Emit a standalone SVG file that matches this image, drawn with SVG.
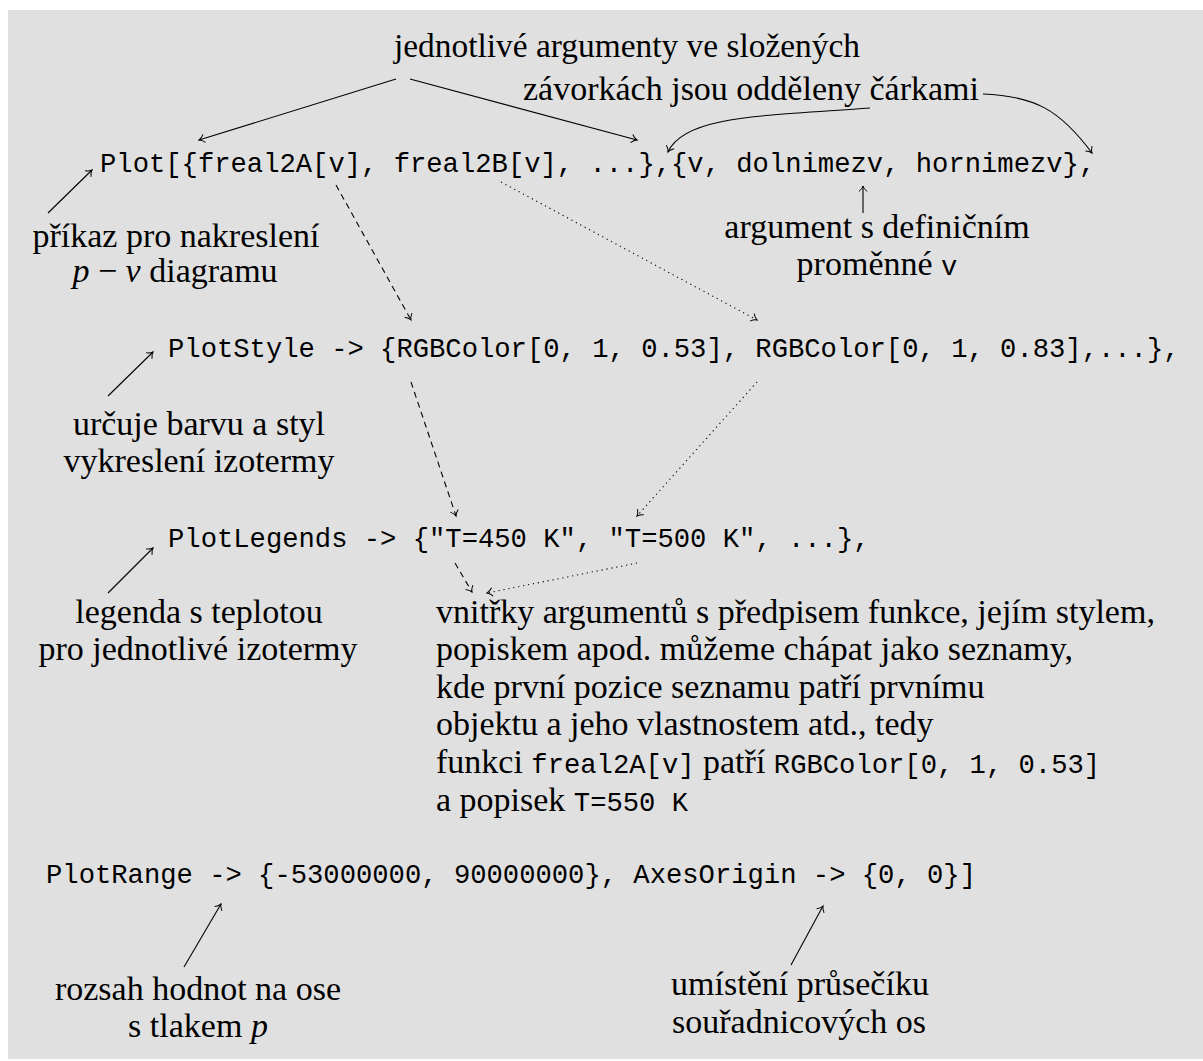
<svg xmlns="http://www.w3.org/2000/svg" width="1203" height="1061" viewBox="0 0 1203 1061">
  <style>
    .rm { font-family: "Liberation Serif", "DejaVu Serif", serif; font-size: 34px; fill: #000; }
    .tt { font-family: "Liberation Mono", "DejaVu Sans Mono", monospace; font-size: 27.2px; fill: #000; }
    .ttin { font-family: "Liberation Mono", "DejaVu Sans Mono", monospace; font-size: 27.2px; }
    .it { font-style: italic; }
    .mid { text-anchor: middle; }
    .ln { fill: none; stroke: #000; stroke-width: 1.1; marker-end: url(#tip); }
    .dash { stroke-dasharray: 6 4.5; }
    .dot { stroke-dasharray: 1.2 3.8; }
  </style>
  <defs>
    <marker id="tip" viewBox="-7 -5 9 10" markerWidth="9" markerHeight="10" refX="0" refY="0" orient="auto" markerUnits="userSpaceOnUse">
      <path d="M-5.5,-4.2 C-3.5,-1.6 -1.2,-0.4 0,0 C-1.2,0.4 -3.5,1.6 -5.5,4.2" fill="none" stroke="#000" stroke-width="1"/>
    </marker>
  </defs>

  <!-- page background -->
  <rect x="8" y="10" width="1195" height="1049" fill="#e0e0e0"/>

  <!-- connectors -->
  <g id="connectors">
    <line class="ln" x1="396" y1="79" x2="199" y2="140"/>
    <line class="ln" x1="410" y1="79" x2="637" y2="140"/>
    <path class="ln" d="M870,108 C760,116 684,116 668,152"/>
    <path class="ln" d="M983,94 C1035,96 1060,110 1092,153"/>
    <line class="ln" x1="863" y1="213" x2="863" y2="186"/>
    <line class="ln" x1="48" y1="213" x2="92" y2="170"/>
    <line class="ln dash" x1="336" y1="185" x2="411" y2="320"/>
    <line class="ln dot" x1="501" y1="182" x2="757" y2="320"/>
    <line class="ln" x1="108" y1="396" x2="153" y2="352"/>
    <line class="ln dash" x1="411" y1="382" x2="456" y2="516"/>
    <line class="ln dot" x1="757" y1="382" x2="637" y2="516"/>
    <line class="ln" x1="108" y1="593" x2="153" y2="548"/>
    <line class="ln dash" x1="455" y1="563" x2="472" y2="592"/>
    <line class="ln dot" x1="637" y1="563" x2="487" y2="593"/>
    <line class="ln" x1="184" y1="967" x2="221" y2="904"/>
    <line class="ln" x1="791" y1="965" x2="823" y2="906"/>
  </g>

  <g id="note-arguments">
    <text class="rm" x="394" y="57" textLength="466" lengthAdjust="spacingAndGlyphs">jednotlivé argumenty ve složených</text>
    <text class="rm" x="523" y="100">závorkách jsou odděleny čárkami</text>
  </g>

  <g id="plot-call">
    <text class="tt" x="100" y="172">Plot[{freal2A[v], freal2B[v], ...},{v, dolnimezv, hornimezv},</text>
  </g>

  <g id="note-plot">
    <text class="rm mid" x="176" y="247">příkaz pro nakreslení</text>
    <text class="rm mid" x="175" y="282"><tspan class="it">p</tspan> − <tspan class="it">v</tspan> diagramu</text>
  </g>

  <g id="note-domain">
    <text class="rm mid" x="877" y="238">argument s definičním</text>
    <text class="rm mid" x="877" y="275">proměnné <tspan class="ttin">v</tspan></text>
  </g>

  <g id="plot-style">
    <text class="tt" x="168" y="357">PlotStyle -&gt; {RGBColor[0, 1, 0.53], RGBColor[0, 1, 0.83],...},</text>
  </g>

  <g id="note-style">
    <text class="rm mid" x="199" y="435">určuje barvu a styl</text>
    <text class="rm mid" x="199" y="472">vykreslení izotermy</text>
  </g>

  <g id="plot-legends">
    <text class="tt" x="168" y="547">PlotLegends -&gt; {"T=450 K", "T=500 K", ...},</text>
  </g>

  <g id="note-legends">
    <text class="rm mid" x="199" y="623">legenda s teplotou</text>
    <text class="rm mid" x="198" y="660">pro jednotlivé izotermy</text>
  </g>

  <g id="note-lists">
    <text class="rm" x="436" y="623">vnitřky argumentů s předpisem funkce, jejím stylem,</text>
    <text class="rm" x="436" y="660">popiskem apod. můžeme chápat jako seznamy,</text>
    <text class="rm" x="436" y="698">kde první pozice seznamu patří prvnímu</text>
    <text class="rm" x="436" y="735">objektu a jeho vlastnostem atd., tedy</text>
    <text class="rm" x="436" y="773">funkci <tspan class="ttin">freal2A[v]</tspan> patří <tspan class="ttin">RGBColor[0, 1, 0.53]</tspan></text>
    <text class="rm" x="436" y="811">a popisek <tspan class="ttin">T=550 K</tspan></text>
  </g>

  <g id="plot-range">
    <text class="tt" x="46" y="883">PlotRange -&gt; {-53000000, 90000000}, AxesOrigin -&gt; {0, 0}]</text>
  </g>

  <g id="note-range">
    <text class="rm mid" x="198" y="1000">rozsah hodnot na ose</text>
    <text class="rm mid" x="198" y="1037">s tlakem <tspan class="it">p</tspan></text>
  </g>

  <g id="note-origin">
    <text class="rm mid" x="800" y="995">umístění průsečíku</text>
    <text class="rm mid" x="799" y="1033">souřadnicových os</text>
  </g>
</svg>
